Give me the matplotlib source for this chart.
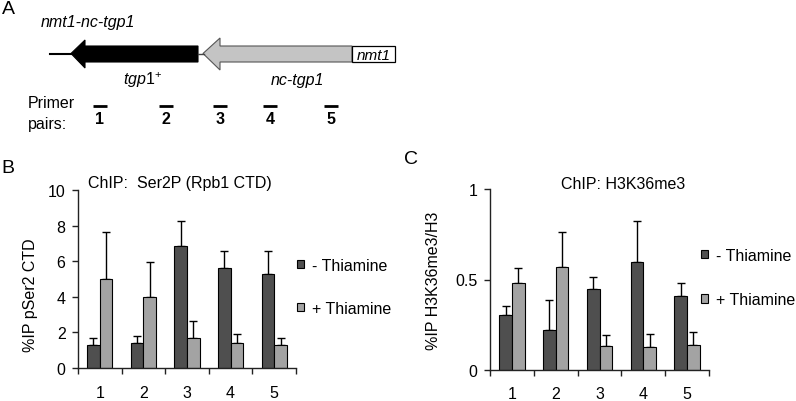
import numpy as np
import matplotlib
matplotlib.use("Agg")
import matplotlib.pyplot as plt
from matplotlib.patches import Polygon, Rectangle

plt.rcParams['font.family'] = ['Liberation Sans', 'DejaVu Sans']
plt.rcParams['mathtext.fontset'] = 'custom'
plt.rcParams['mathtext.it'] = 'Liberation Sans:italic'
plt.rcParams['mathtext.rm'] = 'Liberation Sans'

# ---------------- data ----------------
primer_pairs = ['1', '2', '3', '4', '5']
series_names = ['- Thiamine', '+ Thiamine']

ser2_minus = [1.28, 1.40, 6.83, 5.64, 5.30]
ser2_minus_err = [0.38, 0.40, 1.42, 0.95, 1.29]
ser2_plus = [4.98, 4.00, 1.67, 1.40, 1.32]
ser2_plus_err = [2.67, 1.98, 0.95, 0.52, 0.37]

h3_minus = [0.303, 0.222, 0.445, 0.595, 0.408]
h3_minus_err = [0.052, 0.166, 0.071, 0.228, 0.074]
h3_plus = [0.479, 0.571, 0.133, 0.126, 0.139]
h3_plus_err = [0.085, 0.191, 0.061, 0.070, 0.068]

ser2_ticks = [0, 2, 4, 6, 8, 10]
h3_ticks = [0, 0.5, 1]
h3_ticklabels = ['0', '0.5', '1']

DARK = '#4f4f4f'
LIGHT = '#a3a3a3'
W, H = 796, 402
FS = 11.5

fig = plt.figure(figsize=(W / 100, H / 100), dpi=100)

def px_ax(l, r, t, b):
    return [l / W, (H - b) / H, (r - l) / W, (b - t) / H]

def bar_panel(ax, minus, minus_err, plus, plus_err, ticks, ticklabels, ylim):
    x = np.arange(len(primer_pairs))
    w = 0.29
    ax.errorbar(x - w / 2, minus, yerr=[np.zeros(len(minus)), minus_err], fmt='none',
                ecolor='black', elinewidth=1, capsize=2.8, capthick=1, zorder=1)
    ax.errorbar(x + w / 2, plus, yerr=[np.zeros(len(plus)), plus_err], fmt='none',
                ecolor='black', elinewidth=1, capsize=2.8, capthick=1, zorder=1)
    b1 = ax.bar(x - w / 2, minus, w, color=DARK, edgecolor='black', linewidth=0.8,
                label=series_names[0], zorder=2)
    b2 = ax.bar(x + w / 2, plus, w, color=LIGHT, edgecolor='black', linewidth=0.8,
                label=series_names[1], zorder=2)
    ax.set_xlim(-0.5, len(primer_pairs) - 0.5)
    ax.set_ylim(*ylim)
    ax.set_xticks(x)
    ax.set_xticklabels(primer_pairs, fontsize=FS)
    ax.set_xticks(np.arange(len(primer_pairs) + 1) - 0.5, minor=True)
    ax.tick_params(axis='x', which='major', length=0, pad=12)
    ax.tick_params(axis='x', which='minor', length=4, width=1, direction='out', color='#222222')
    ax.set_yticks(ticks)
    ax.set_yticklabels(ticklabels, fontsize=FS)
    ax.tick_params(axis='y', length=4, width=1, direction='out', pad=5, color='#222222')
    for s in ['top', 'right']:
        ax.spines[s].set_visible(False)
    for s in ['left', 'bottom']:
        ax.spines[s].set_linewidth(1)
        ax.spines[s].set_color('#222222')
    return b1, b2

leg_kw = dict(loc='center left', frameon=False, fontsize=FS, handlelength=0.42,
              handleheight=0.42, handletextpad=0.55, borderpad=0, borderaxespad=0)

# ---------------- panel B ----------------
axB = fig.add_axes(px_ax(78, 296, 191, 369))
hb = bar_panel(axB, ser2_minus, ser2_minus_err, ser2_plus, ser2_plus_err,
               ser2_ticks, [str(t) for t in ser2_ticks], (0, 10))
axB.set_ylabel('%IP pSer2 CTD', fontsize=FS)
axB.yaxis.set_label_coords((38 - 78) / 218, (369 - 295) / 178)
fig.text(180 / W, 1 - 184 / H, 'ChIP:  Ser2P (Rpb1 CTD)', fontsize=FS, ha='center', va='center')
fig.legend(hb, series_names, bbox_to_anchor=(297 / W, 1 - 288 / H),
           labelspacing=1.75, **leg_kw)

# ---------------- panel C ----------------
axC = fig.add_axes(px_ax(490, 709, 190.3, 370.7))
hc = bar_panel(axC, h3_minus, h3_minus_err, h3_plus, h3_plus_err,
               h3_ticks, h3_ticklabels, (0, 1))
axC.set_ylabel('%IP H3K36me3/H3', fontsize=FS)
axC.yaxis.set_label_coords((441 - 490) / 219, 0.5)
fig.text(623 / W, 1 - 185 / H, 'ChIP: H3K36me3', fontsize=FS, ha='center', va='center')
fig.legend(hc, series_names, bbox_to_anchor=(701 / W, 1 - 278.5 / H),
           labelspacing=1.85, **leg_kw)

# ---------------- panel A (diagram) ----------------
axA = fig.add_axes([0, 0, 1, 1], zorder=-1)
axA.set_xlim(0, W)
axA.set_ylim(H, 0)
axA.axis('off')

axA.plot([50, 72], [54.5, 54.5], color='black', lw=1.5)
# black arrow (tgp1+)
axA.add_patch(Polygon([(71, 54.5), (85, 41), (85, 47), (198, 47), (198, 63),
                       (85, 63), (85, 69), (71, 54.5)], closed=True,
                      facecolor='black', edgecolor='black', lw=0.8))
axA.plot([198, 204], [54.5, 54.5], color='#444444', lw=1)
# grey arrow (nc-tgp1)
axA.add_patch(Polygon([(203, 54.5), (220, 39), (220, 47), (352, 47), (352, 63),
                       (220, 63), (220, 71), (203, 54.5)], closed=True,
                      facecolor='#c4c4c4', edgecolor='#555555', lw=0.8))
axA.add_patch(Rectangle((352, 47), 43, 16, facecolor='white', edgecolor='black', lw=0.9))
axA.text(373.5, 55.5, 'nmt1', fontsize=11, style='italic', ha='center', va='center')

axA.text(41, 23, 'nmt1-nc-tgp1', fontsize=FS, style='italic', ha='left', va='center')
axA.text(143, 80, r'$tgp1^{+}$', fontsize=FS, ha='center', va='center')
axA.text(297, 80, 'nc-tgp1', fontsize=FS, style='italic', ha='center', va='center')
axA.text(28, 103, 'Primer', fontsize=FS, ha='left', va='center')
axA.text(28, 124, 'pairs:', fontsize=FS, ha='left', va='center')
primer_x = [100, 166, 220, 270, 331]
for lab, px in zip(primer_pairs, primer_x):
    axA.plot([px - 7, px + 7], [107, 107], color='black', lw=2, solid_capstyle='butt')
    axA.text(px, 119, lab, fontsize=FS, weight='bold', ha='center', va='center')

fig.text(8 / W, 1 - 10 / H, 'A', fontsize=14, ha='center', va='center')
fig.text(8 / W, 1 - 169 / H, 'B', fontsize=14, ha='center', va='center')
fig.text(411 / W, 1 - 160 / H, 'C', fontsize=14, ha='center', va='center')

fig.savefig('out.png', dpi=100)
